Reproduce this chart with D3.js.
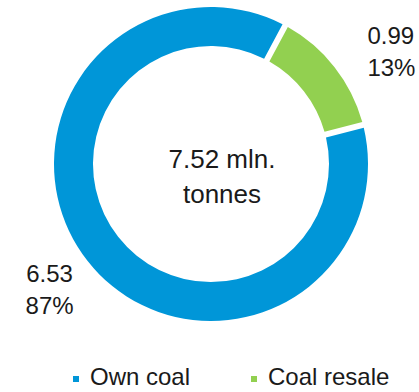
<!DOCTYPE html>
<html>
<head>
<meta charset="utf-8">
<script src="https://cdn.jsdelivr.net/npm/d3@7"></script>
<style>
  body { margin: 0; background: #fff; }
  text { font-family: "Liberation Sans", Arial, sans-serif; fill: #1a1a1a; }
</style>
</head>
<body>
<div id="chart"></div>
<script>
// coal volumes, mln. tonnes
const categories = ["Own coal", "Coal resale"];
const values = [6.53, 0.99];
const shares = ["87%", "13%"];
const totalLabel = ["7.52 mln.", "tonnes"];
const colors = ["#0096d8", "#92d050"];

(function () {
    const width = 419, height = 392;
    const cx = 211, cy = 164;
    const outer = 157, inner = 118;

    const svg = d3.select("#chart")
        .append("svg")
        .attr("width", width)
        .attr("height", height);

    const g = svg.append("g")
        .attr("transform", "translate(" + cx + "," + cy + ")");

    const start = 75.6 * Math.PI / 180;
    const pie = d3.pie().sort(null)
        .startAngle(start)
        .endAngle(start + 2 * Math.PI);

    const arc = d3.arc()
        .innerRadius(inner)
        .outerRadius(outer)
        .padRadius(outer)
        .padAngle(6 / outer);

    const arcs = pie(values);

    g.selectAll("path.slice")
        .data(arcs)
        .enter()
        .append("path")
        .attr("class", "slice")
        .attr("d", arc)
        .attr("fill", (d, i) => colors[i]);

    // outside labels, placed along the slice middle angle
    const labelArc = d3.arc().innerRadius(200).outerRadius(200);
    const labelStyle = [
        { anchor: "middle", dx: -4, dy: -5 },  // Own coal
        { anchor: "start", dx: -1, dy: 3 }     // Coal resale
    ];

    arcs.forEach(function (d, i) {
        const [x, y] = labelArc.centroid(d);
        const s = labelStyle[i];
        const t = g.append("text")
            .attr("text-anchor", s.anchor)
            .attr("font-size", "24px")
            .attr("x", x + s.dx)
            .attr("y", y + s.dy);
        t.append("tspan").attr("x", x + s.dx).text(d.data.toFixed(2));
        t.append("tspan").attr("x", x + s.dx).attr("dy", 32).text(shares[i]);
    });

    // total in the middle
    const center = g.append("text")
        .attr("text-anchor", "middle")
        .attr("font-size", "26px")
        .attr("x", 11)
        .attr("y", 4);
    totalLabel.forEach(function (line, i) {
        center.append("tspan")
            .attr("x", 11)
            .attr("dy", i === 0 ? 0 : 35)
            .text(line);
    });

    // legend
    const legend = svg.append("g");
    const legendX = [73, 251];
    categories.forEach(function (c, i) {
        const item = legend.append("g")
            .attr("transform", "translate(" + legendX[i] + ",376)");
        item.append("rect")
            .attr("width", 6)
            .attr("height", 6)
            .attr("fill", colors[i]);
        item.append("text")
            .attr("x", 17)
            .attr("y", 9)
            .attr("font-size", "24px")
            .text(c);
    });
})();
</script>
</body>
</html>
